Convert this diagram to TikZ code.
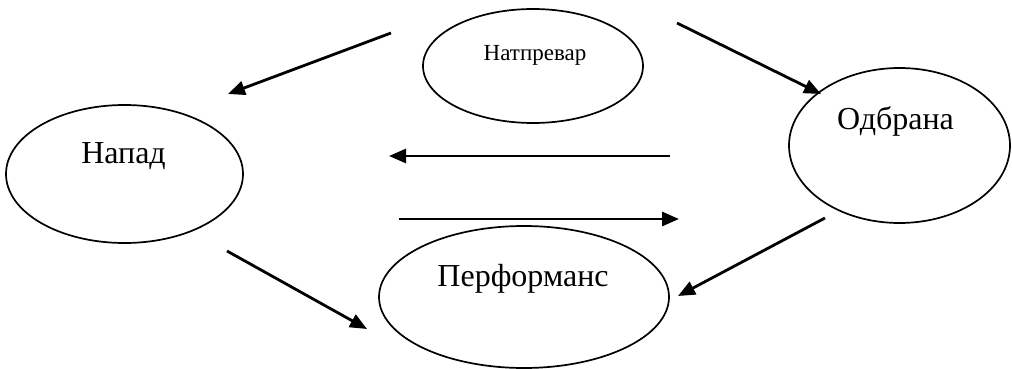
\documentclass[tikz,border=0pt]{standalone}
\usepackage{fontspec}
\setmainfont{Liberation Serif}
\usetikzlibrary{shapes.geometric,arrows.meta}
\tikzset{
  oval/.style={draw=black, line width=1.7pt, ellipse, inner sep=0pt},
  bigtxt/.style={anchor=base, inner sep=0pt, font=\fontsize{32}{38}\selectfont},
  smalltxt/.style={anchor=base, inner sep=0pt, font=\fontsize{23}{28}\selectfont},
  conn/.style={line width=2.8pt, -{Triangle[length=17pt,width=14pt]}}
}
\begin{document}
\begin{tikzpicture}[x=1pt,y=-1pt]
\useasboundingbox (0,0) rectangle (1012,369);
% ovals
\node[oval, minimum width=237pt, minimum height=138pt] (nap) at (124.5,174) {};
\node[oval, minimum width=220pt, minimum height=114pt] (nat) at (533,66) {};
\node[oval, minimum width=221pt, minimum height=155pt] (odb) at (899.5,145.5) {};
\node[oval, minimum width=290pt, minimum height=142pt] (per) at (524,297) {};
% texts
\node[bigtxt] (napt) at (123.5,163) {Напад};
\node[smalltxt] (natt) at (535,60) {Натпревар};
\node[bigtxt] (odbt) at (895.5,129) {Одбрана};
\node[bigtxt] (pert) at (523,286) {Перформанс};
% connector ends
\coordinate (a1s) at (391,33);  \coordinate (a1e) at (228,94);
\coordinate (a2s) at (677,23);  \coordinate (a2e) at (821,94);
\coordinate (a3s) at (670,156); \coordinate (a3e) at (389,156);
\coordinate (a4s) at (399,219); \coordinate (a4e) at (679,219);
\coordinate (a5s) at (825,218); \coordinate (a5e) at (678,296);
\coordinate (a6s) at (227,251); \coordinate (a6e) at (367,329);
\draw[conn] (a1s) -- (a1e);
\draw[conn] (a2s) -- (a2e);
\draw[conn] (a3s) -- (a3e);
\draw[conn] (a4s) -- (a4e);
\draw[conn] (a5s) -- (a5e);
\draw[conn] (a6s) -- (a6e);
\end{tikzpicture}
\end{document}
